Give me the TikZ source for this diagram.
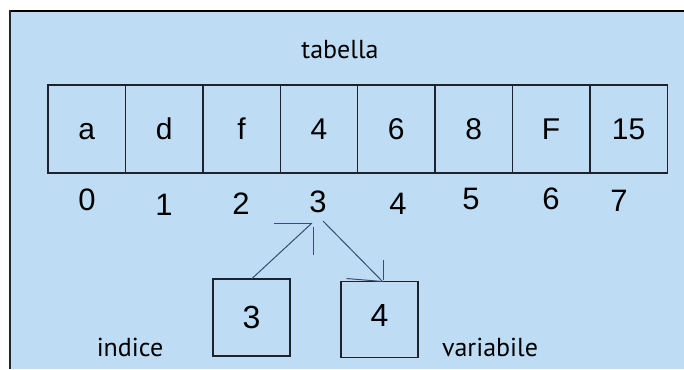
\documentclass[tikz,border=0pt]{standalone}
\usepackage{fontspec}
\setmainfont{Liberation Sans}
\newfontfamily\labelfont{PT Sans}
\definecolor{panel}{RGB}{190,221,245}
\definecolor{ink}{RGB}{30,34,44}
\definecolor{pen}{RGB}{58,76,112}
\begin{document}
\begin{tikzpicture}[x=1pt,y=-1pt,
  cell/.style={draw=ink, line width=1.4pt, minimum width=77.4pt, minimum height=88pt,
    inner sep=0pt, outer sep=0pt, text height=21.5pt, text depth=0pt,
    font=\fontsize{30}{30}\selectfont},
  idx/.style={inner sep=0pt, font=\fontsize{31}{31}\selectfont},
  slot/.style={draw=ink, line width=1.3pt, minimum width=77pt, minimum height=77pt,
    inner sep=0pt, outer sep=0pt, font=\fontsize{32}{32}\selectfont},
  caption/.style={inner sep=0pt, anchor=base, font=\labelfont\fontsize{26}{26}\selectfont},
  link/.style={draw=pen, line width=1pt}]
\useasboundingbox (0,0) rectangle (684,369);
% panel and its frame
\fill[panel] (10,11) rectangle (684,369);
\draw[black, line width=2pt] (9,11) -- (684,11);
\draw[black!85, line width=2.2pt] (10,10) -- (10,369);

% array title
\node[caption] (tab) at (340,58) {tabella};

% array cells
\foreach \v [count=\i from 0] in {a,d,f,4,6,8,F,15}
  \node[cell] (c\i) at ({48+77.4*\i+38.7},129) {\v};

% index row
\foreach \x/\y [count=\i from 0] in {87/200,164/205,241/204,318/202,398/204,471/199,551/199,619/201}
  \node[idx] (i\i) at (\x,\y) {\i};

% index variable and value variable
\node[slot] (ind) at (251.5,317.5) {3};
\node[slot, minimum height=76pt] (var) at (379.5,319.5) {\raisebox{8pt}{4}};
\node[caption] (lind) at (130,356) {indice};
\node[caption] (lvar) at (490,356) {variabile};

% arrows with hand-drawn heads
\coordinate (tipA) at (312,223);
\coordinate (tailB) at (323,221);
\coordinate (tipB) at ([xshift=3pt]var.north);
\draw[link] (ind.north) -- (tipA);
\draw[link] (tipA) -- ++(-38,0);
\draw[link] (tipA) ++(1,4) -- ++(0,28);
\draw[link] (tailB) -- (tipB);
\draw[link] (tipB) -- ++(-36,-3);
\draw[link] (tipB) ++(1,-2) -- ++(0,-20);
\end{tikzpicture}
\end{document}
